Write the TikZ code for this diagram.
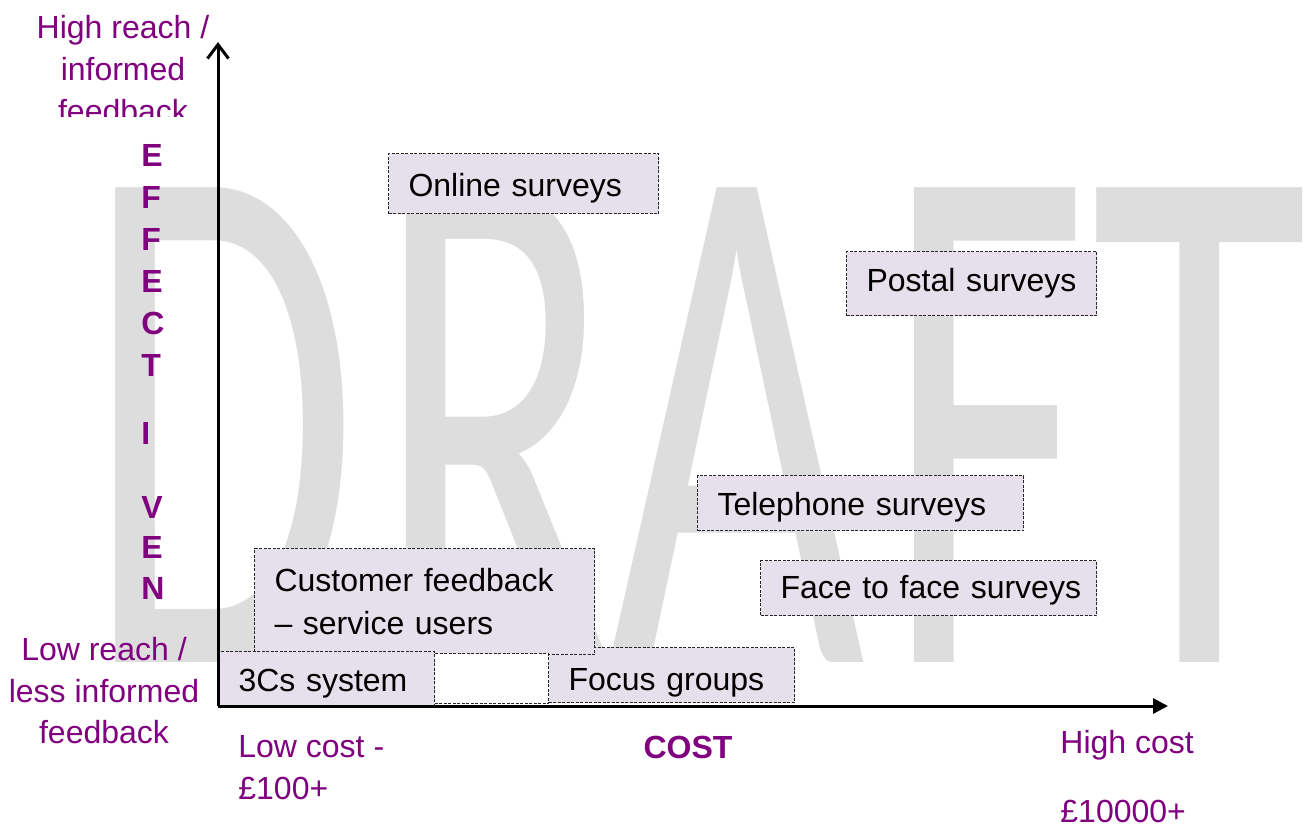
\documentclass[tikz,border=0pt]{standalone}
\usepackage{fontspec}
\setmainfont{Liberation Sans}
\newfontfamily\wmfont{Carlito}
\usetikzlibrary{arrows.meta}
\definecolor{lav}{HTML}{E6E0EC}
\definecolor{purp}{HTML}{800080}
\definecolor{wm}{HTML}{DDDDDD}
\begin{document}
\begin{tikzpicture}[x=0.5pt,y=-0.5pt,
  box/.style={draw=black!85, line width=0.5pt, dash pattern=on 1.5pt off 0.75pt, fill=lav,
    inner ysep=0pt, inner xsep=10pt, align=left, anchor=north west,
    font=\fontsize{16}{21.5}\selectfont},
  lbl/.style={text=purp, inner sep=0pt, font=\fontsize{16}{21}\selectfont},
  vl/.style={text=purp, inner sep=0pt, anchor=west, font=\fontsize{16}{21}\selectfont\bfseries},
  wml/.style={text=wm, inner sep=0pt, anchor=base, font=\wmfont\fontsize{370}{400}\selectfont},
  axis/.style={line width=1.5pt}]
\useasboundingbox (0,0) rectangle (1309,826);
% watermark
\node[wml] (wD) at (222,662) {\scalebox{0.6}[1]{D}};
\node[wml] (wR) at (495,662) {\scalebox{0.6}[1]{R}};
\node[wml] (wA) at (737,662) {\scalebox{0.6}[1]{A}};
\node[wml] (wF) at (986,662) {\scalebox{0.6}[1]{F}};
\node[wml] (wT) at (1200,662) {\scalebox{0.6}[1]{T}};
% boxes
\node[box, minimum width=135pt, text width=115pt, minimum height=30pt, text height=12.5pt, text depth=0pt] (online) at (388,153) {\mbox{Online surveys}};
\node[box, minimum width=125pt, text width=105pt, minimum height=32pt, text height=7.5pt, text depth=0pt] (postal) at (846,251) {\mbox{Postal surveys}};
\node[box, minimum width=163pt, text width=143pt, minimum height=27.5pt, text height=12.5pt, text depth=0pt] (tel) at (697,475) {\mbox{Telephone surveys}};
\node[box, minimum width=168pt, text width=148pt, minimum height=27.5pt, text height=10.8pt, text depth=0pt] (face) at (760,560) {\mbox{Face to face surveys}};
\node[box, minimum width=123pt, text width=103pt, minimum height=27.5pt, text height=15pt, text depth=0pt] (focus) at (548,647) {\mbox{Focus groups}};
\node[box, minimum width=170pt, text width=150pt, minimum height=53pt] (cust) at (254,548) {Customer feedback\\– service users};
\node[box, fill=white, minimum width=57pt, minimum height=25pt] (blank) at (434,653) {};
\node[box, minimum width=108pt, text width=88pt, minimum height=27.5pt, text height=12.5pt, text depth=0pt] (threec) at (218,651) {\mbox{3Cs system}};
% axes
\coordinate (o) at (218,706);
\coordinate (ytop) at (218,42);
\coordinate (xend) at (1168,706);
\draw[axis,-{Straight Barb[length=7pt,width=10.5pt]}] (o) -- (ytop);
\draw[axis,-{Triangle[length=7.5pt,width=7.5pt]}] (o) -- (xend);
% axis labels
\node[lbl, anchor=base] (h1) at (123,38) {High reach /};
\node[lbl, anchor=base] (h2) at (123,80) {informed};
\begin{scope}
\clip (0,0) rectangle (260,116);
\node[lbl, anchor=base] (h3) at (123,122) {feedback};
\end{scope}
\node[lbl, anchor=base] (l1) at (104,660) {Low reach /};
\node[lbl, anchor=base] (l2) at (104,702) {less informed};
\node[lbl, anchor=base] (l3) at (104,743) {feedback};
\node[lbl, anchor=base west] (c1) at (238,757) {Low cost -};
\node[lbl, anchor=base west] (c2) at (238,799) {£100+};
\node[lbl, anchor=base west] (hc1) at (1060,753) {High cost};
\node[lbl, anchor=base west] (hc2) at (1060,822) {£10000+};
\node[lbl, anchor=base, font=\fontsize{16}{21}\selectfont\bfseries] (cost) at (688,758) {COST};
% vertical letters
\node[vl] (e1) at (141,155) {E};
\node[vl] (e2) at (141,197) {F};
\node[vl] (e3) at (141,239) {F};
\node[vl] (e4) at (141,281) {E};
\node[vl] (e5) at (141,323) {C};
\node[vl] (e6) at (141,365) {T};
\node[vl] (e7) at (141,433) {I};
\node[vl] (e8) at (141,507) {V};
\node[vl] (e9) at (141,547) {E};
\node[vl] (e10) at (141,588) {N};
\end{tikzpicture}
\end{document}
